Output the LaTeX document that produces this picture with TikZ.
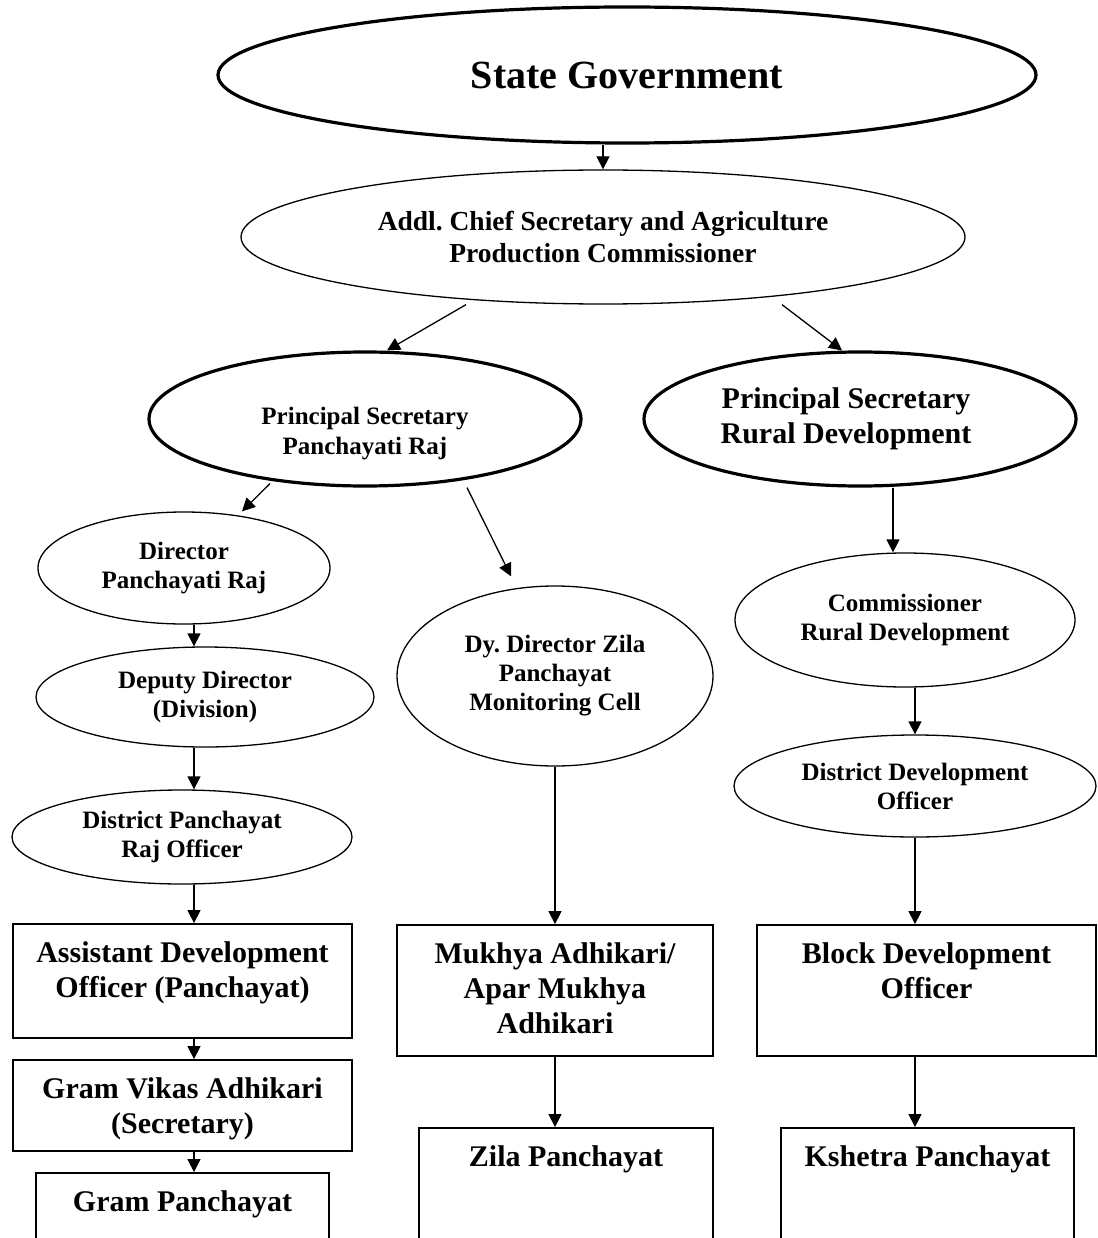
\documentclass[tikz,border=0pt]{standalone}
\usepackage{fontspec}
\setmainfont{Liberation Serif}
\frenchspacing
\usepackage{tikz}
\usetikzlibrary{%
  positioning
 ,shapes.geometric
 ,arrows.meta
}
\tikzstyle{org}=[on grid,x=1pt,y=-1pt,line width=1.3pt,>={Triangle[length=13pt,width=13pt]}]
\tikzstyle{bigell}=[ellipse,draw,line width=3.2pt,inner sep=0pt,align=center]
\tikzstyle{ell}=[ellipse,draw,line width=1.3pt,inner sep=0pt,align=center,font=\fontsize{25}{29}\selectfont\bfseries]
\tikzstyle{box}=[rectangle,draw,line width=1.8pt,inner sep=0pt]
\tikzstyle{boxtxt}=[anchor=north,yshift=-18pt,inner sep=0pt,align=center,font=\fontsize{30}{35}\selectfont\bfseries]

\begin{document}
\begin{tikzpicture}[org]
      \useasboundingbox (0,0) rectangle (1097,1238);
      \clip (0,0) rectangle (1097,1238);
      \node[bigell,minimum width=818pt,minimum height=136pt,font=\fontsize{40}{48}\selectfont\bfseries] (sg) at (627,75) {State Government};
      \node[ell,minimum width=724pt,minimum height=134pt,font=\fontsize{27.5}{32}\selectfont\bfseries] (acs) [below=162pt of sg, xshift=-24pt] {Addl. Chief Secretary and Agriculture\\Production Commissioner};
      \node[bigell,minimum width=432pt,minimum height=134pt,font=\fontsize{25}{30}\selectfont\bfseries] (ps_pr) [below=182pt of acs, xshift=-238pt] {\rule{0pt}{47pt}Principal Secretary\\Panchayati Raj};
      \node[bigell,minimum width=432pt,minimum height=134pt,font=\fontsize{30}{35}\selectfont\bfseries] (ps_rd) [right=495pt of ps_pr] {Principal Secretary\hspace*{28pt}\\Rural Development\hspace*{28pt}};
      \node[ell,minimum width=292pt,minimum height=112pt] (dir_pr) [below=149pt of ps_pr, xshift=-181pt] {Director\\Panchayati Raj};
      \node[ell,minimum width=338pt,minimum height=100pt] (dy_div) [below=129pt of dir_pr, xshift=21pt] {Deputy Director\\(Division)};
      \node[ell,minimum width=340pt,minimum height=94pt] (dpro) [below=140pt of dy_div, xshift=-23pt] {District Panchayat\\Raj Officer};
      \node[ell,minimum width=316pt,minimum height=180pt] (dy_zp) [below=257pt of ps_pr, xshift=190pt] {Dy. Director Zila\\Panchayat\\Monitoring Cell};
      \node[ell,minimum width=340pt,minimum height=134pt] (com_rd) [below=201pt of ps_rd, xshift=45pt] {Commissioner\\Rural Development};
      \node[ell,minimum width=362pt,minimum height=102pt] (ddo) [below=166pt of com_rd, xshift=10pt] {District Development\\Officer};
      \node[box,minimum width=339pt,minimum height=114pt,label={[boxtxt]north:Assistant Development\\Officer (Panchayat)}] (ado) [below=144pt of dpro, xshift=0.5pt] {};
      \node[box,minimum width=339pt,minimum height=91pt,label={[boxtxt]north:Gram Vikas Adhikari\\(Secretary)}] (gva) [below=124.5pt of ado] {};
      \node[box,minimum width=293pt,minimum height=140pt,label={[boxtxt]north:Gram Panchayat}] (gp) [below=137.5pt of gva] {};
      \node[box,minimum width=316pt,minimum height=131pt,label={[boxtxt]north:Mukhya Adhikari/\\Apar Mukhya\\Adhikari}] (mukhya) [below=314.5pt of dy_zp] {};
      \node[box,minimum width=294pt,minimum height=140pt,label={[boxtxt]north:Zila Panchayat}] (zila) [below=207.5pt of mukhya, xshift=11pt] {};
      \node[box,minimum width=339pt,minimum height=131pt,label={[boxtxt]north:Block Development\\Officer}] (bdo) [below=204.5pt of ddo, xshift=11.5pt] {};
      \node[box,minimum width=293pt,minimum height=140pt,label={[boxtxt]north:Kshetra Panchayat}] (kp) [below=207.5pt of bdo, xshift=1pt] {};
      \coordinate (lcol) at (194,0);
      \coordinate (rtop) at (893,0);
      \coordinate (rcol) at (915,0);
      \path[->]
        (acs.north |- sg.south) edge (acs.north)
        ([xshift=-137pt]acs.south) edge ([xshift=22pt]ps_pr.north)
        ([xshift=179pt]acs.south) edge ([xshift=-18pt]ps_rd.north)
        ([xshift=-95pt,yshift=4pt]ps_pr.south) edge ([xshift=58pt]dir_pr.north)
        ([xshift=102pt]ps_pr.south) edge ([xshift=-44pt,yshift=9pt]dy_zp.north)
        (dir_pr.south -| lcol) edge (dy_div.north -| lcol)
        (dy_div.south -| lcol) edge (dpro.north -| lcol)
        (dpro.south -| lcol) edge (ado.north -| lcol)
        (ado.south -| lcol) edge (gva.north -| lcol)
        (gva.south -| lcol) edge (gp.north -| lcol)
        (dy_zp.south) edge (mukhya.north)
        (mukhya.south) edge (mukhya.south |- zila.north)
        (ps_rd.south -| rtop) edge (com_rd.north -| rtop)
        (com_rd.south -| rcol) edge (ddo.north -| rcol)
        (ddo.south -| rcol) edge (bdo.north -| rcol)
        (bdo.south -| rcol) edge (kp.north -| rcol);
    \end{tikzpicture}
\end{document}
